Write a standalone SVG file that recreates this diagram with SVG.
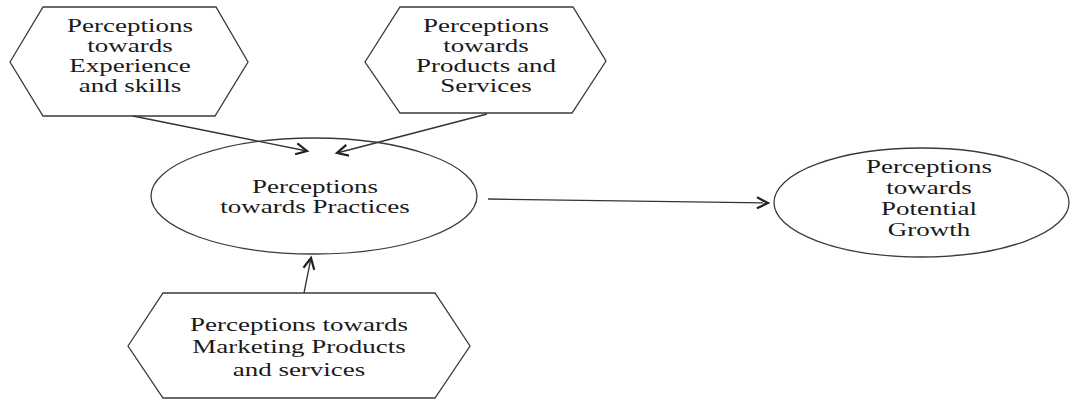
<svg xmlns="http://www.w3.org/2000/svg" width="1072" height="399" viewBox="0 0 1072 399">
<defs>
<style>
.shape{fill:#ffffff;stroke:#3a3a3a;stroke-width:1.3}
.conn{fill:none;stroke:#333333;stroke-width:1.3}
.lbl{font-family:"Liberation Serif","Times New Roman",serif;font-size:19px;fill:#1a1a1a;text-anchor:middle}
</style>
<marker id="arr" markerUnits="userSpaceOnUse" markerWidth="16" markerHeight="16" viewBox="0 0 16 16" refX="13" refY="8" orient="auto">
<path d="M2,2.5 L13,8 L2,13.5" fill="none" stroke="#222222" stroke-width="2.2" stroke-linejoin="miter"/>
</marker>
</defs>
<rect width="1072" height="399" fill="#ffffff"/>
<g id="node-experience">
<polygon class="shape" points="10,62 43,7 216,7 248,62 215,116 43,116"/>
<g transform="translate(130,0) scale(1.42,1)">
<text class="lbl" x="0" y="32">Perceptions</text>
<text class="lbl" x="0" y="52">towards</text>
<text class="lbl" x="0" y="72">Experience</text>
<text class="lbl" x="0" y="92">and skills</text>
</g>
</g>
<g id="node-products">
<polygon class="shape" points="365,62 400,7 573,7 606,61 572,113 400,113"/>
<g transform="translate(486,0) scale(1.42,1)">
<text class="lbl" x="0" y="32">Perceptions</text>
<text class="lbl" x="0" y="52">towards</text>
<text class="lbl" x="0" y="72">Products and</text>
<text class="lbl" x="0" y="92">Services</text>
</g>
</g>
<g id="node-practices">
<ellipse class="shape" cx="314" cy="196" rx="163" ry="58"/>
<g transform="translate(315,0) scale(1.42,1)">
<text class="lbl" x="0" y="193">Perceptions</text>
<text class="lbl" x="0" y="213">towards Practices</text>
</g>
</g>
<g id="node-growth">
<ellipse class="shape" cx="921.5" cy="202.5" rx="147.5" ry="54.5"/>
<g transform="translate(929,0) scale(1.42,1)">
<text class="lbl" x="0" y="173">Perceptions</text>
<text class="lbl" x="0" y="194">towards</text>
<text class="lbl" x="0" y="215">Potential</text>
<text class="lbl" x="0" y="236">Growth</text>
</g>
</g>
<g id="node-marketing">
<polygon class="shape" points="128,346 163,293 435,293 470,346 435,398 163,398"/>
<g transform="translate(299,0) scale(1.42,1)">
<text class="lbl" x="0" y="331">Perceptions towards</text>
<text class="lbl" x="0" y="353">Marketing Products</text>
<text class="lbl" x="0" y="376">and services</text>
</g>
</g>
<g id="connectors">
<line class="conn" x1="133" y1="116" x2="307" y2="151" marker-end="url(#arr)"/>
<line class="conn" x1="487" y1="114" x2="337" y2="153" marker-end="url(#arr)"/>
<line class="conn" x1="304" y1="293" x2="311" y2="258" marker-end="url(#arr)"/>
<line class="conn" x1="488" y1="199" x2="768" y2="203" marker-end="url(#arr)"/>
</g>
</svg>
